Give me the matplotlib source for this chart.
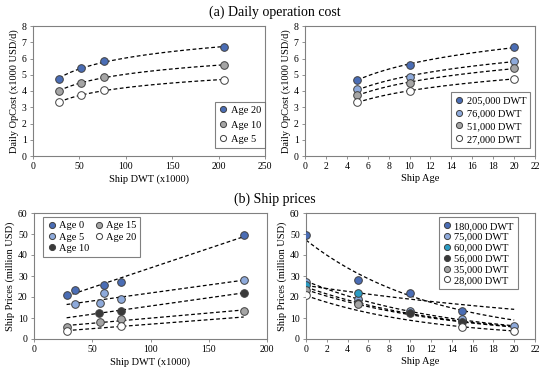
import numpy as np
import matplotlib
matplotlib.use("Agg")
import matplotlib.pyplot as plt

plt.rcParams['font.family'] = ['Liberation Serif', 'DejaVu Serif']

# (a) Daily operation cost vs DWT
dwt_a = [28, 52, 77, 206]
op_age20 = [4.75, 5.4, 5.85, 6.7]
op_age10 = [4.0, 4.5, 4.85, 5.6]
op_age5 = [3.3, 3.75, 4.05, 4.7]

# (a) Daily operation cost vs age
age_a = [5, 10, 20]
op_205k = [4.7, 5.6, 6.7]
op_76k = [4.1, 4.85, 5.85]
op_51k = [3.75, 4.5, 5.4]
op_27k = [3.3, 4.0, 4.75]

# (b) Ship prices vs DWT, per age
p_age0_x = [28, 35, 60, 75, 180]
p_age0_y = [21, 23.5, 25.5, 27, 49.5]
p_age5_x = [35, 57, 60, 75, 180]
p_age5_y = [16.5, 17, 22, 19, 28]
p_age10_x = [56, 75, 180]
p_age10_y = [12.5, 13.5, 22]
p_age15_x = [28, 57, 75, 180]
p_age15_y = [5.5, 8.3, 9.5, 13.5]
p_age20_x = [28, 75]
p_age20_y = [4, 6]

# (b) Ship prices vs age, per DWT
p_180k_x = [0, 5, 10, 15]
p_180k_y = [49.5, 28, 22, 13.5]
p_75k_x = [0, 5, 10, 15, 20]
p_75k_y = [27, 19, 13.5, 9.5, 6]
p_60k_x = [0, 5]
p_60k_y = [25.5, 22]
p_56k_x = [5, 10, 15]
p_56k_y = [17, 12.5, 8.3]
p_35k_x = [0, 5]
p_35k_y = [23.5, 16.5]
p_28k_x = [0, 15, 20]
p_28k_y = [21, 5.5, 4]

C_DARK = '#4a6db5'
C_LIGHT = '#8eaadb'
C_TEAL = '#2b9cc4'
C_BLACK = '#3a3a3a'
C_GREY = '#a5a5a5'
C_WHITE = '#ffffff'
EDGE = '#404040'

W, H = 550, 373
fig = plt.figure(figsize=(W / 100, H / 100), dpi=100)

def ax_px(l, r, t, b):
    return fig.add_axes([l / W, 1 - b / H, (r - l) / W, (b - t) / H])

ax1 = ax_px(33, 265, 26, 156)
ax2 = ax_px(305, 535, 26, 156)
ax3 = ax_px(34, 267, 213, 339)
ax4 = ax_px(306, 535, 213, 339)

fs = 7
lfs = 7.5
ms = 5.5
lkw = dict(ls='--', color='black', lw=0.9, dashes=(3, 2), zorder=2)

def style(ax):
    for s in ax.spines.values():
        s.set_color('#808080')
        s.set_linewidth(0.8)
    ax.tick_params(labelsize=fs, length=2.5, width=0.6, color='#808080', pad=2)

def pts(ax, x, y, c, label):
    ax.plot(x, y, 'o', ms=ms, mfc=c, mec=EDGE, mew=0.7, label=label, zorder=3)

def logfit(ax, x, y, x0, x1):
    a, b = np.polyfit(np.log(x), y, 1)
    xx = np.linspace(x0, x1, 100)
    ax.plot(xx, a * np.log(xx) + b, **lkw)

def linfit(ax, x, y, x0, x1):
    a, b = np.polyfit(x, y, 1)
    xx = np.linspace(x0, x1, 100)
    ax.plot(xx, a * xx + b, **lkw)

def expfit(ax, x, y, x0, x1):
    a, b = np.polyfit(x, np.log(y), 1)
    xx = np.linspace(x0, x1, 100)
    ax.plot(xx, np.exp(a * xx + b), **lkw)

def legend(ax, **kw):
    leg = ax.legend(fontsize=lfs, frameon=True, fancybox=False, edgecolor='#606060',
                    handletextpad=0.3, borderpad=0.4, handlelength=0.8, markerscale=0.8,
                    borderaxespad=0, **kw)
    leg.get_frame().set_linewidth(0.8)
    return leg

# Panel a-left
for y, c, lab in [(op_age20, C_DARK, 'Age 20'), (op_age10, C_GREY, 'Age 10'), (op_age5, C_WHITE, 'Age 5')]:
    logfit(ax1, dwt_a, y, dwt_a[0], dwt_a[-1])
    pts(ax1, dwt_a, y, c, lab)
ax1.set_xlim(0, 250); ax1.set_ylim(0, 8)
ax1.set_xticks(range(0, 251, 50)); ax1.set_yticks(range(0, 9))
ax1.set_xlabel('Ship DWT (x1000)', fontsize=lfs, labelpad=2)
ax1.set_ylabel('Daily OpCost (x1000 USD/d)', fontsize=lfs, labelpad=2)
legend(ax1, loc='lower right', labelspacing=0.5, bbox_to_anchor=(1.0, 0.06))
style(ax1)

# Panel a-right
for y, c, lab in [(op_205k, C_DARK, '205,000 DWT'), (op_76k, C_LIGHT, '76,000 DWT'),
                  (op_51k, C_GREY, '51,000 DWT'), (op_27k, C_WHITE, '27,000 DWT')]:
    logfit(ax2, age_a, y, age_a[0], age_a[-1])
    pts(ax2, age_a, y, c, lab)
ax2.set_xlim(0, 22); ax2.set_ylim(0, 8)
ax2.set_xticks(range(0, 23, 2)); ax2.set_yticks(range(0, 9))
ax2.set_xlabel('Ship Age', fontsize=lfs, labelpad=2)
ax2.set_ylabel('Daily OpCost (x1000 USD/d)', fontsize=lfs, labelpad=2)
legend(ax2, loc='lower right', labelspacing=0.35, bbox_to_anchor=(0.98, 0.06))
style(ax2)

# Panel b-left
series_b1 = [(p_age0_x, p_age0_y, C_DARK, 'Age 0'), (p_age5_x, p_age5_y, C_LIGHT, 'Age 5'),
             (p_age10_x, p_age10_y, C_BLACK, 'Age 10'), (p_age15_x, p_age15_y, C_GREY, 'Age 15'),
             (p_age20_x, p_age20_y, C_WHITE, 'Age 20')]
for x, y, c, lab in series_b1:
    linfit(ax3, x, y, 28, 180)
for x, y, c, lab in series_b1:
    pts(ax3, x, y, c, lab)
ax3.set_xlim(0, 200); ax3.set_ylim(0, 60)
ax3.set_xticks(range(0, 201, 50)); ax3.set_yticks(range(0, 61, 10))
ax3.set_xlabel('Ship DWT (x1000)', fontsize=lfs, labelpad=2)
ax3.set_ylabel('Ship Prices (million USD)', fontsize=lfs, labelpad=2)
legend(ax3, loc='upper left', ncol=2, labelspacing=0.2, columnspacing=0.5,
       bbox_to_anchor=(0.04, 0.97))
style(ax3)

# Panel b-right
series_b2 = [(p_180k_x, p_180k_y, C_DARK, '180,000 DWT'), (p_75k_x, p_75k_y, C_LIGHT, '75,000 DWT'),
             (p_60k_x, p_60k_y, C_TEAL, '60,000 DWT'), (p_56k_x, p_56k_y, C_BLACK, '56,000 DWT'),
             (p_35k_x, p_35k_y, C_GREY, '35,000 DWT'), (p_28k_x, p_28k_y, C_WHITE, '28,000 DWT')]
for x, y, c, lab in series_b2:
    expfit(ax4, x, y, 0, 20)
for x, y, c, lab in series_b2:
    pts(ax4, x, y, c, lab)
ax4.set_xlim(0, 22); ax4.set_ylim(0, 60)
ax4.set_xticks(range(0, 23, 2)); ax4.set_yticks(range(0, 61, 10))
ax4.set_xlabel('Ship Age', fontsize=lfs, labelpad=2)
ax4.set_ylabel('Ship Prices (million USD)', fontsize=lfs, labelpad=2)
legend(ax4, loc='upper right', labelspacing=0.15, bbox_to_anchor=(0.925, 0.965))
style(ax4)

fig.text(0.5, 1 - 12 / H, '(a) Daily operation cost', ha='center', va='center', fontsize=10)
fig.text(0.5, 1 - 199 / H, '(b) Ship prices', ha='center', va='center', fontsize=10)

fig.savefig('out.png', dpi=100, facecolor='white')
